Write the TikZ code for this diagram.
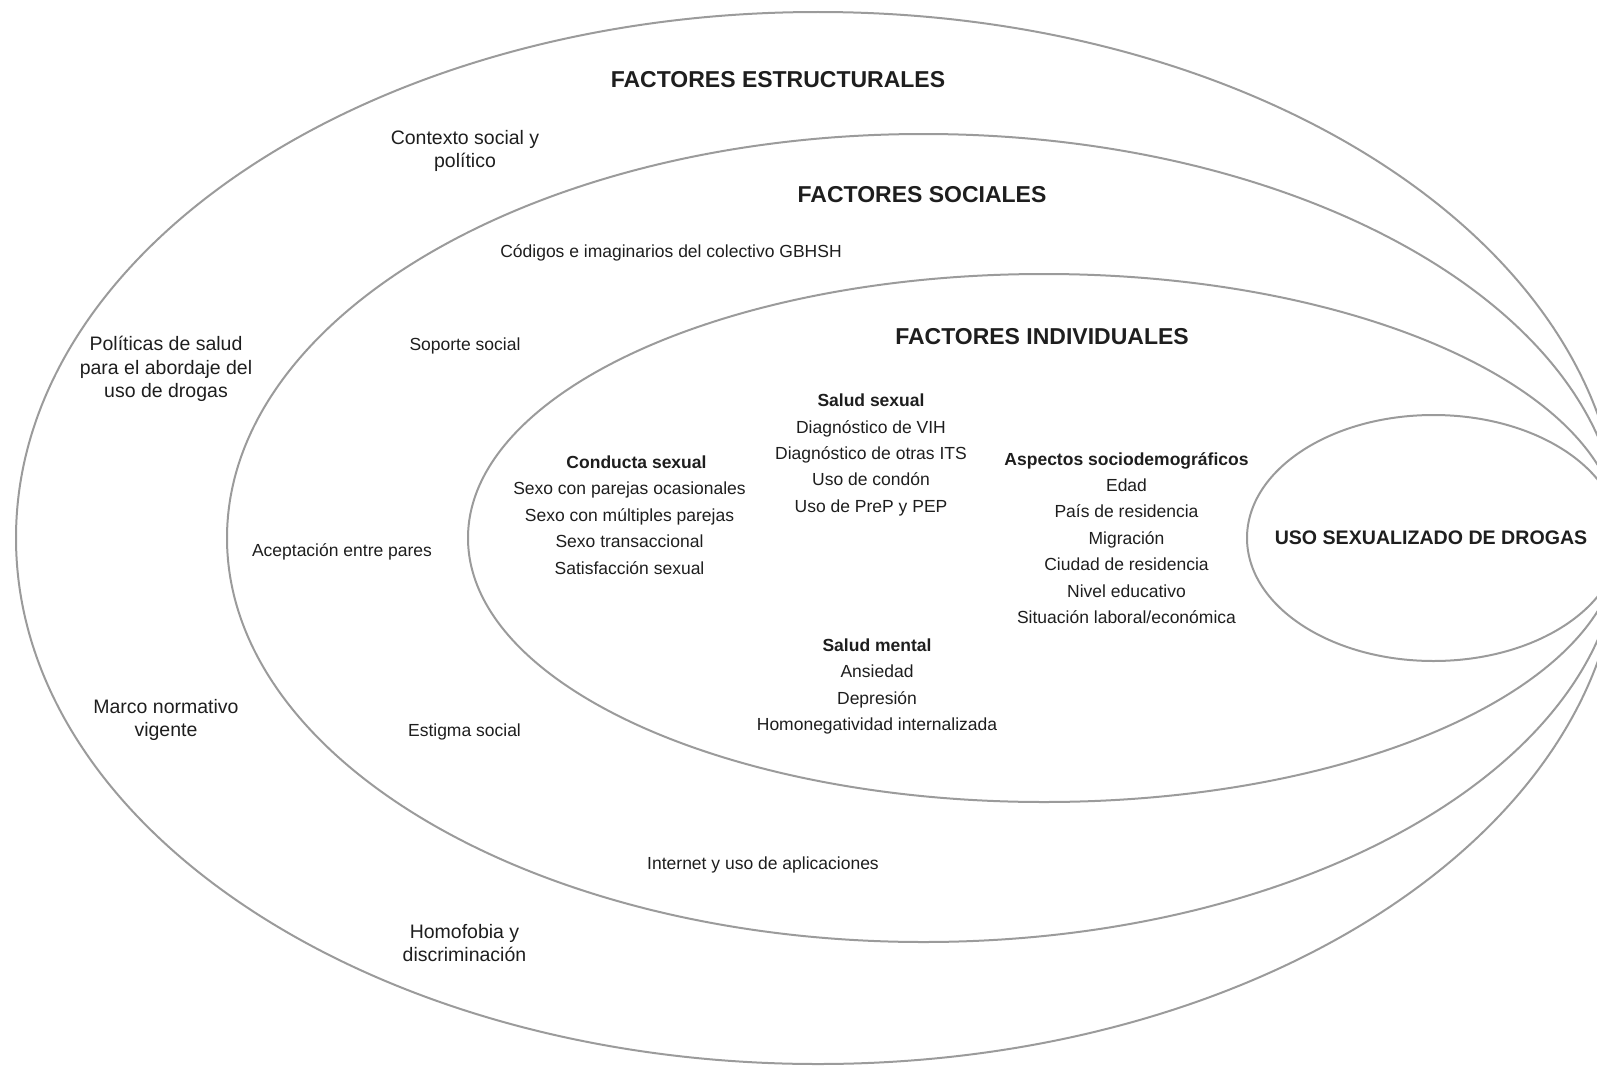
\documentclass[tikz,border=0pt]{standalone}
\usepackage{fontspec}
\setmainfont{Liberation Sans}
\definecolor{trazo}{RGB}{155,155,155}
\definecolor{texto}{RGB}{30,30,30}

\begin{document}
\begin{tikzpicture}[x=1pt,y=-1pt,
         elipse/.style={draw=trazo,line width=2pt},
         titulo/.style={font=\fontsize{23}{27}\selectfont\bfseries},
         externo/.style={align=center,font=\fontsize{19.5}{23.4}\selectfont},
         social/.style={font=\fontsize{17.5}{21}\selectfont},
         lista/.style={align=center,font=\fontsize{17.5}{26.4}\selectfont},
         centro/.style={font=\fontsize{19.6}{23}\selectfont\bfseries},
         every node/.style={text=texto,inner sep=0pt}]
         \useasboundingbox (0,0) rectangle (1597,1065) ;
         %\draw[very thin,gray,step=50] (0,0) grid (1597,1065) ;
         \draw[elipse] (818,538) ellipse [x radius=802,y radius=526] ; % estructurales
         \draw[elipse] (923.5,538) ellipse [x radius=696.5,y radius=404] ; % sociales
         \draw[elipse] (1044,538) ellipse [x radius=576,y radius=264] ; % individuales
         \draw[elipse] (1433.5,538) ellipse [x radius=186.5,y radius=123] ; % uso
         % anillo exterior
         \node[titulo] (estructurales) at (778,80) {FACTORES ESTRUCTURALES} ;
         \node[externo] (contexto) at (465,151) {Contexto social y\\político} ;
         \node[externo] (politicas) at (166,369) {Políticas de salud\\para el abordaje del\\uso de drogas} ;
         \node[externo] (marco) at (166,720) {Marco normativo\\vigente} ;
         \node[externo] (homofobia) at (464.5,943) {Homofobia y\\discriminación} ;
         % anillo social
         \node[titulo] (sociales) at (922,194.5) {FACTORES SOCIALES} ;
         \node[social] (codigos) at (671,252.5) {Códigos e imaginarios del colectivo GBHSH} ;
         \node[social] (soporte) at (465,346) {Soporte social} ;
         \node[social] (aceptacion) at (342,552) {Aceptación entre pares} ;
         \node[social] (estigma) at (464.5,732) {Estigma social} ;
         \node[social] (internet) at (763,865) {Internet y uso de aplicaciones} ;
         % anillo individual
         \node[titulo] (individuales) at (1042,337) {FACTORES INDIVIDUALES} ;
         \node[lista] (saludsex) at (871,455) {\textbf{Salud sexual}\\Diagnóstico de VIH\\Diagnóstico de otras ITS\\Uso de condón\\Uso de PreP y PEP} ;
         \node[lista] (conducta) at (629.5,515) {\hspace{14pt}\textbf{Conducta sexual}\\Sexo con parejas ocasionales\\Sexo con múltiples parejas\\Sexo transaccional\\Satisfacción sexual} ;
         \node[lista] (aspectos) at (1126.5,538) {\textbf{Aspectos sociodemográficos}\\Edad\\País de residencia\\Migración\\Ciudad de residencia\\Nivel educativo\\Situación laboral/económica} ;
         \node[lista] (mental) at (877,686.5) {\textbf{Salud mental}\\Ansiedad\\Depresión\\Homonegatividad internalizada} ;
         \node[centro] (uso) at (1431,538) {USO SEXUALIZADO DE DROGAS} ;
      \end{tikzpicture}
\end{document}
